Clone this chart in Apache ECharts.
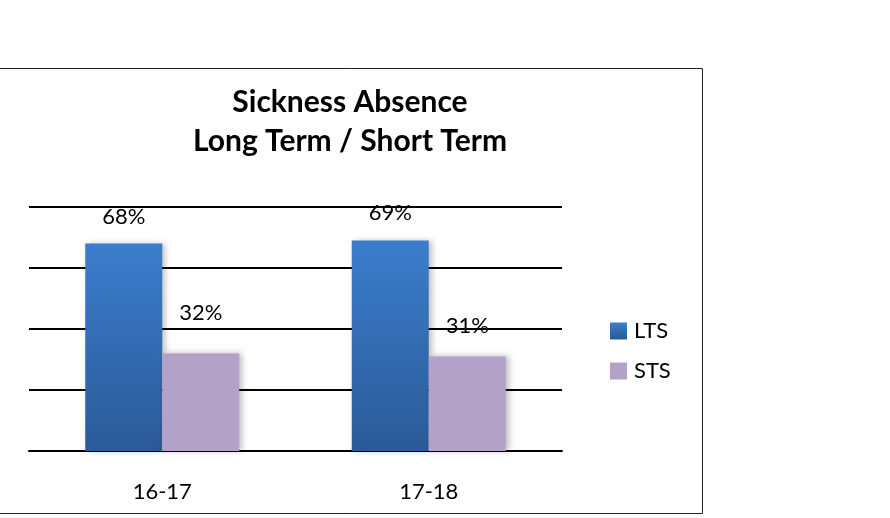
<!DOCTYPE html>
<html>
<head>
<meta charset="utf-8">
<script src="https://cdn.jsdelivr.net/npm/echarts@6/dist/echarts.min.js"></script>
<style>
  html, body { margin: 0; padding: 0; background: #fff; }
  #chart { width: 890px; height: 518px; }
</style>
</head>
<body>
<div id="chart"></div>
<script>
// данные графика
const categories = ['16-17', '17-18'];
const ltsValues = [68, 69];
const stsValues = [32, 31];
const seriesNames = ['LTS', 'STS'];

const FONT = 'Lato, "Open Sans", sans-serif';

const chart = echarts.init(document.getElementById('chart'));

const ltsColor = new echarts.graphic.LinearGradient(0, 0, 0, 1, [
  { offset: 0, color: '#3b7dcd' },
  { offset: 1, color: '#2b5a97' }
]);

const labelStyle = {
  show: true,
  position: 'top',
  formatter: '{c}%',
  fontFamily: FONT,
  fontSize: 22,
  lineHeight: 22,
  color: '#000'
};

const option = {
  backgroundColor: '#fff',
  animation: false,
  title: {
    text: 'Sickness Absence\nLong Term / Short Term',
    left: 350,
    top: 83,
    textAlign: 'center',
    padding: 0,
    textStyle: { fontFamily: FONT, fontWeight: 'bold', fontSize: 30, lineHeight: 39, color: '#000' }
  },
  graphic: [{
    type: 'rect',
    shape: { x: -1, y: 68.5, width: 703.5, height: 445 },
    style: { fill: 'none', stroke: '#222', lineWidth: 1 },
    z: -1
  }],
  legend: {
    orient: 'vertical',
    left: 605,
    top: 315,
    itemWidth: 17,
    itemHeight: 17,
    itemGap: 18,
    icon: 'rect',
    textStyle: { fontFamily: FONT, fontSize: 22, lineHeight: 22, color: '#000', padding: [0, 0, 0, 2] },
    data: seriesNames
  },
  grid: { left: 29, right: 328, top: 207, bottom: 67 },
  xAxis: {
    type: 'category',
    data: categories,
    axisLine: { lineStyle: { color: '#000', width: 2 } },
    axisTick: { show: false },
    axisLabel: { fontFamily: FONT, fontSize: 22, color: '#000', margin: 30 }
  },
  yAxis: {
    type: 'value',
    min: 0,
    max: 80,
    interval: 20,
    axisLine: { show: false },
    axisTick: { show: false },
    axisLabel: { show: false },
    splitLine: { lineStyle: { color: '#000', width: 2 } }
  },
  series: [
    {
      name: seriesNames[0],
      type: 'bar',
      barWidth: 77,
      barGap: '0%',
      // смещение подписей как в исходной картинке
      data: ltsValues.map((v, i) => ({ value: v, label: { distance: [16, 17][i] } })),
      itemStyle: {
        color: ltsColor,
        shadowColor: 'rgba(0,0,0,0.25)',
        shadowBlur: 6,
        shadowOffsetX: 3
      },
      label: labelStyle
    },
    {
      name: seriesNames[1],
      type: 'bar',
      barWidth: 77,
      data: stsValues.map((v, i) => ({ value: v, label: { distance: [29, 20][i] } })),
      itemStyle: {
        color: '#b3a1c7',
        shadowColor: 'rgba(0,0,0,0.25)',
        shadowBlur: 6,
        shadowOffsetX: 3
      },
      label: labelStyle
    }
  ]
};

chart.setOption(option);
</script>
</body>
</html>
